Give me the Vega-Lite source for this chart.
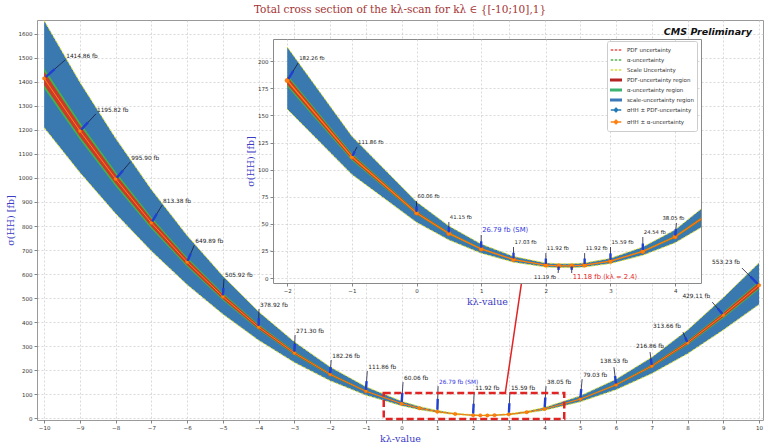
{
  "$schema": "https://vega.github.io/schema/vega-lite/v6.json",
  "background": "white",
  "padding": {"left": 4, "top": 4, "right": 0, "bottom": 0},
  "config": {
    "view": {"stroke": null},
    "axis": {
      "labelFont": "DejaVu Sans", "labelFontSize": 5.5, "labelColor": "#333333",
      "labelPadding": 2,
      "tickSize": 3, "tickColor": "#666666", "tickWidth": 0.8,
      "domain": false,
      "gridColor": "#c8c8c8", "gridDash": [2, 2], "gridWidth": 0.7,
      "titleFont": "DejaVu Serif", "titleFontSize": 9.5, "titleFontWeight": "normal", "titleColor": "#3b3bc4"
    }
  },
  "datasets": {
    "xs": [
      {"k": -10, "s": 1414.86, "shi": 1655.4, "slo": 1209.7, "ahi": 1457.3, "alo": 1372.4, "phi": 1443.2, "plo": 1386.6},
      {"k": -9, "s": 1195.82, "shi": 1399.1, "slo": 1022.4, "ahi": 1231.7, "alo": 1160.0, "phi": 1219.7, "plo": 1171.9},
      {"k": -8, "s": 995.90, "shi": 1165.2, "slo": 851.5, "ahi": 1025.8, "alo": 966.0, "phi": 1015.8, "plo": 976.0},
      {"k": -7, "s": 813.38, "shi": 951.7, "slo": 695.4, "ahi": 837.8, "alo": 789.0, "phi": 829.6, "plo": 797.1},
      {"k": -6, "s": 649.89, "shi": 760.4, "slo": 555.7, "ahi": 669.4, "alo": 630.4, "phi": 662.9, "plo": 636.9},
      {"k": -5, "s": 505.92, "shi": 591.9, "slo": 432.6, "ahi": 521.1, "alo": 490.7, "phi": 516.0, "plo": 495.8},
      {"k": -4, "s": 378.92, "shi": 443.3, "slo": 324.0, "ahi": 390.3, "alo": 367.6, "phi": 386.5, "plo": 371.3},
      {"k": -3, "s": 271.30, "shi": 317.4, "slo": 232.0, "ahi": 279.4, "alo": 263.2, "phi": 276.7, "plo": 265.9},
      {"k": -2, "s": 182.26, "shi": 213.2, "slo": 155.8, "ahi": 187.7, "alo": 176.8, "phi": 185.9, "plo": 178.6},
      {"k": -1, "s": 111.86, "shi": 130.9, "slo": 95.6, "ahi": 115.2, "alo": 108.5, "phi": 114.1, "plo": 109.6},
      {"k": 0, "s": 60.06, "shi": 70.3, "slo": 51.4, "ahi": 61.9, "alo": 58.3, "phi": 61.3, "plo": 58.9},
      {"k": 0.5, "s": 41.15, "shi": 48.1, "slo": 35.2, "ahi": 42.4, "alo": 39.9, "phi": 42.0, "plo": 40.3},
      {"k": 1, "s": 26.79, "shi": 31.3, "slo": 22.9, "ahi": 27.6, "alo": 26.0, "phi": 27.3, "plo": 26.3},
      {"k": 1.5, "s": 17.03, "shi": 19.9, "slo": 14.6, "ahi": 17.5, "alo": 16.5, "phi": 17.4, "plo": 16.7},
      {"k": 2, "s": 11.92, "shi": 13.9, "slo": 10.2, "ahi": 12.3, "alo": 11.6, "phi": 12.2, "plo": 11.7},
      {"k": 2.2, "s": 11.19, "shi": 13.1, "slo": 9.6, "ahi": 11.5, "alo": 10.9, "phi": 11.4, "plo": 11.0},
      {"k": 2.4, "s": 11.18, "shi": 13.1, "slo": 9.6, "ahi": 11.5, "alo": 10.8, "phi": 11.4, "plo": 11.0},
      {"k": 2.6, "s": 11.92, "shi": 13.9, "slo": 10.2, "ahi": 12.3, "alo": 11.6, "phi": 12.2, "plo": 11.7},
      {"k": 3, "s": 15.59, "shi": 18.2, "slo": 13.3, "ahi": 16.1, "alo": 15.1, "phi": 15.9, "plo": 15.3},
      {"k": 3.5, "s": 24.54, "shi": 28.7, "slo": 21.0, "ahi": 25.3, "alo": 23.8, "phi": 25.0, "plo": 24.0},
      {"k": 4, "s": 38.05, "shi": 44.5, "slo": 32.5, "ahi": 39.2, "alo": 36.9, "phi": 38.8, "plo": 37.3},
      {"k": 5, "s": 79.03, "shi": 92.5, "slo": 67.6, "ahi": 81.4, "alo": 76.7, "phi": 80.6, "plo": 77.4},
      {"k": 6, "s": 138.53, "shi": 162.1, "slo": 118.4, "ahi": 142.7, "alo": 134.4, "phi": 141.3, "plo": 135.8},
      {"k": 7, "s": 216.86, "shi": 253.7, "slo": 185.4, "ahi": 223.4, "alo": 210.4, "phi": 221.2, "plo": 212.5},
      {"k": 8, "s": 313.66, "shi": 367.0, "slo": 268.2, "ahi": 323.1, "alo": 304.3, "phi": 319.9, "plo": 307.4},
      {"k": 9, "s": 429.11, "shi": 502.1, "slo": 366.9, "ahi": 442.0, "alo": 416.2, "phi": 437.7, "plo": 420.5},
      {"k": 10, "s": 553.23, "shi": 647.3, "slo": 473.0, "ahi": 569.8, "alo": 536.6, "phi": 564.3, "plo": 542.2}
    ],
    "mainNotes": [
      {"k": -10, "tx": -9.41, "ty": 1492},
      {"k": -9, "tx": -8.55, "ty": 1267},
      {"k": -8, "tx": -7.59, "ty": 1067},
      {"k": -7, "tx": -6.70, "ty": 887},
      {"k": -6, "tx": -5.80, "ty": 720},
      {"k": -5, "tx": -4.97, "ty": 579},
      {"k": -4, "tx": -3.99, "ty": 454},
      {"k": -3, "tx": -2.98, "ty": 346},
      {"k": -2, "tx": -1.97, "ty": 242},
      {"k": -1, "tx": -0.96, "ty": 196},
      {"k": 0, "tx": 0.04, "ty": 150},
      {"k": 1, "tx": 1.02, "ty": 133},
      {"k": 2, "tx": 2.03, "ty": 108},
      {"k": 3, "tx": 3.03, "ty": 108},
      {"k": 4, "tx": 4.04, "ty": 133},
      {"k": 5, "tx": 5.05, "ty": 162},
      {"k": 6, "tx": 5.94, "ty": 212},
      {"k": 7, "tx": 6.95, "ty": 275},
      {"k": 8, "tx": 7.87, "ty": 358},
      {"k": 9, "tx": 8.69, "ty": 483},
      {"k": 10, "tx": 9.52, "ty": 625}
    ],
    "insetNotes": [
      {"k": -2, "tx": -1.83, "ty": 198.5},
      {"k": -1, "tx": -0.92, "ty": 121},
      {"k": 0, "tx": 0.0, "ty": 71},
      {"k": 0.5, "tx": 0.5, "ty": 51.7},
      {"k": 1, "tx": 1.0, "ty": 39.7},
      {"k": 1.5, "tx": 1.5, "ty": 28.6},
      {"k": 2, "tx": 2.0, "ty": 23},
      {"k": 2.2, "tx": 2.19, "ty": 4.6},
      {"k": 2.4, "tx": 2.4, "ty": 4.6},
      {"k": 2.6, "tx": 2.6, "ty": 23},
      {"k": 3, "tx": 3.0, "ty": 28.6},
      {"k": 3.5, "tx": 3.5, "ty": 37.8},
      {"k": 4, "tx": 4.02, "ty": 50.8}
    ]
  },
  "columns": 1,
  "align": "none",
  "spacing": -381,
  "bounds": "flush",
  "concat": [
    {
      "width": 726,
      "height": 400,
      "view": {"stroke": "#9a9a9a", "strokeWidth": 1},
      "title": {
        "text": "Total cross section of the kλ-scan for kλ ∈  {[-10;10],1}",
        "font": "DejaVu Serif", "fontSize": 10.5, "fontWeight": "normal",
        "color": "#a33333", "anchor": "middle", "offset": 3
      },
      "layer": [
        {
          "data": {"name": "xs"},
          "layer": [
            {
              "mark": {"type": "area", "color": "#3a78b0", "opacity": 1},
              "encoding": {
                "x": {"field": "k", "type": "quantitative",
                  "scale": {"domain": [-10.2, 10.11], "nice": false, "zero": false},
                  "axis": {"values": [-10, -9, -8, -7, -6, -5, -4, -3, -2, -1, 0, 1, 2, 3, 4, 5, 6, 7, 8, 9, 10], "tickCount": 50, "format": "d", "title": "kλ-value", "titlePadding": 3, "labelOverlap": false, "labelFlush": false}},
                "y": {"field": "slo", "type": "quantitative",
                  "scale": {"domain": [-8, 1658], "nice": false, "zero": false},
                  "axis": {"values": [0, 100, 200, 300, 400, 500, 600, 700, 800, 900, 1000, 1100, 1200, 1300, 1400, 1500, 1600], "tickCount": 50, "format": "d", "title": "σ(HH) [fb]", "titlePadding": 3, "labelOverlap": false, "labelFlush": false}},
                "y2": {"field": "shi"}
              }
            },
            {
              "mark": {"type": "line", "color": "#e4e43a", "strokeWidth": 1, "strokeDash": [3, 1.5]},
              "encoding": {"x": {"field": "k", "type": "quantitative"}, "y": {"field": "shi", "type": "quantitative"}}
            },
            {
              "mark": {"type": "line", "color": "#e4e43a", "strokeWidth": 1, "strokeDash": [3, 1.5]},
              "encoding": {"x": {"field": "k", "type": "quantitative"}, "y": {"field": "slo", "type": "quantitative"}}
            },
            {
              "mark": {"type": "area", "color": "#3fb54a", "opacity": 1},
              "encoding": {"x": {"field": "k", "type": "quantitative"}, "y": {"field": "alo", "type": "quantitative"}, "y2": {"field": "ahi"}}
            },
            {
              "mark": {"type": "area", "color": "#cc3a2c", "opacity": 1},
              "encoding": {"x": {"field": "k", "type": "quantitative"}, "y": {"field": "plo", "type": "quantitative"}, "y2": {"field": "phi"}}
            },
            {
              "mark": {"type": "line", "color": "#ff7f0e", "strokeWidth": 1},
              "encoding": {"x": {"field": "k", "type": "quantitative"}, "y": {"field": "s", "type": "quantitative"}}
            },
            {
              "mark": {"type": "point", "filled": true, "color": "#ff7f0e", "size": 12, "opacity": 1, "stroke": "#e86a00", "strokeWidth": 0.4},
              "encoding": {"x": {"field": "k", "type": "quantitative"}, "y": {"field": "s", "type": "quantitative"}}
            }
          ]
        },
        {
          "data": {"name": "mainNotes"},
          "transform": [
            {"lookup": "k", "from": {"data": {"name": "xs"}, "key": "k", "fields": ["s"]}},
            {"calculate": "datum.tx + 0.5 * (datum.k - datum.tx)", "as": "hx"},
            {"calculate": "datum.ty + 0.5 * (datum.s - datum.ty)", "as": "hy"},
            {"calculate": "datum.tx + 0.92 * (datum.k - datum.tx)", "as": "ex"},
            {"calculate": "datum.ty + 0.92 * (datum.s - datum.ty)", "as": "ey"},
            {"calculate": "format(datum.s, '.2f') + ' fb' + (datum.k == 1 ? ' (SM)' : '')", "as": "label"}
          ],
          "layer": [
            {
              "mark": {"type": "rule", "color": "#1b1b3a", "strokeWidth": 0.8},
              "encoding": {"x": {"field": "tx", "type": "quantitative"}, "y": {"field": "ty", "type": "quantitative"}, "x2": {"field": "ex"}, "y2": {"field": "ey"}}
            },
            {
              "mark": {"type": "rule", "color": "#2140cf", "strokeWidth": 2.4},
              "encoding": {"x": {"field": "hx", "type": "quantitative"}, "y": {"field": "hy", "type": "quantitative"}, "x2": {"field": "ex"}, "y2": {"field": "ey"}}
            },
            {
              "transform": [{"filter": "datum.k <= 5"}],
              "mark": {"type": "text", "align": "left", "baseline": "bottom", "dx": 1, "dy": -1, "font": "DejaVu Sans", "fontSize": 5.8},
              "encoding": {
                "x": {"field": "tx", "type": "quantitative"}, "y": {"field": "ty", "type": "quantitative"},
                "text": {"field": "label"},
                "color": {"condition": {"test": "datum.k == 1", "value": "#3535e0"}, "value": "#1a1a1a"}
              }
            },
            {
              "transform": [{"filter": "datum.k > 5 && datum.k < 8"}],
              "mark": {"type": "text", "align": "center", "baseline": "bottom", "dy": -3, "font": "DejaVu Sans", "fontSize": 5.8, "color": "#1a1a1a"},
              "encoding": {"x": {"field": "tx", "type": "quantitative"}, "y": {"field": "ty", "type": "quantitative"}, "text": {"field": "label"}}
            },
            {
              "transform": [{"filter": "datum.k >= 8"}],
              "mark": {"type": "text", "align": "right", "baseline": "bottom", "dx": -2, "dy": -3, "font": "DejaVu Sans", "fontSize": 5.8, "color": "#1a1a1a"},
              "encoding": {"x": {"field": "tx", "type": "quantitative"}, "y": {"field": "ty", "type": "quantitative"}, "text": {"field": "label"}}
            }
          ]
        },
        {
          "data": {"values": [{}]},
          "layer": [
            {
              "mark": {"type": "rect", "filled": false, "stroke": "#e02424", "strokeWidth": 2.5, "strokeDash": [7, 3.5]},
              "encoding": {"x": {"datum": -0.5}, "x2": {"datum": 4.55}, "y": {"datum": 104}, "y2": {"datum": -4}}
            },
            {
              "mark": {"type": "rule", "color": "#e02424", "strokeWidth": 1.5},
              "encoding": {"x": {"datum": 2.9}, "y": {"datum": 104}, "x2": {"datum": 3.39}, "y2": {"datum": 600}}
            },
            {
              "mark": {"type": "text", "text": "CMS Preliminary", "align": "right", "baseline": "middle", "font": "DejaVu Sans", "fontSize": 9.5, "fontWeight": "bold", "fontStyle": "italic", "color": "#111111"},
              "encoding": {"x": {"datum": 9.8}, "y": {"datum": 1608}}
            }
          ]
        }
      ]
    },
    {
      "spacing": 0,
      "bounds": "flush",
      "hconcat": [
        {
          "width": 236,
          "height": 244,
          "view": {"stroke": null},
          "data": {"values": [{}]},
          "mark": {"type": "text", "text": ""}
        },
        {
          "width": 428,
          "height": 244,
          "view": {"fill": "white", "stroke": "#8a8a8a", "strokeWidth": 1},
          "layer": [
            {
              "data": {"name": "xs"},
              "transform": [{"filter": "datum.k >= -2 && datum.k <= 5"}],
              "layer": [
                {
                  "mark": {"type": "area", "color": "#3a78b0", "opacity": 1, "clip": true},
                  "encoding": {
                    "x": {"field": "k", "type": "quantitative",
                      "scale": {"domain": [-2.22, 4.4], "nice": false, "zero": false},
                      "axis": {"values": [-2, -1, 0, 1, 2, 3, 4], "tickCount": 50, "format": "d", "title": "kλ-value", "titlePadding": 3, "labelOverlap": false, "labelFlush": false}},
                    "y": {"field": "slo", "type": "quantitative",
                      "scale": {"domain": [-4.6, 220.6], "nice": false, "zero": false},
                      "axis": {"values": [0, 25, 50, 75, 100, 125, 150, 175, 200], "tickCount": 50, "format": "d", "title": "σ(HH) [fb]", "titlePadding": 2, "labelOverlap": false, "labelFlush": false}},
                    "y2": {"field": "shi"}
                  }
                },
                {
                  "mark": {"type": "line", "color": "#e4e43a", "strokeWidth": 1, "strokeDash": [3, 1.5], "clip": true},
                  "encoding": {"x": {"field": "k", "type": "quantitative"}, "y": {"field": "shi", "type": "quantitative"}}
                },
                {
                  "mark": {"type": "line", "color": "#e4e43a", "strokeWidth": 1, "strokeDash": [3, 1.5], "clip": true},
                  "encoding": {"x": {"field": "k", "type": "quantitative"}, "y": {"field": "slo", "type": "quantitative"}}
                },
                {
                  "mark": {"type": "area", "color": "#3fb54a", "opacity": 1, "clip": true},
                  "encoding": {"x": {"field": "k", "type": "quantitative"}, "y": {"field": "alo", "type": "quantitative"}, "y2": {"field": "ahi"}}
                },
                {
                  "mark": {"type": "area", "color": "#cc3a2c", "opacity": 1, "clip": true},
                  "encoding": {"x": {"field": "k", "type": "quantitative"}, "y": {"field": "plo", "type": "quantitative"}, "y2": {"field": "phi"}}
                },
                {
                  "mark": {"type": "line", "color": "#ff7f0e", "strokeWidth": 1.3, "clip": true},
                  "encoding": {"x": {"field": "k", "type": "quantitative"}, "y": {"field": "s", "type": "quantitative"}}
                },
                {
                  "mark": {"type": "point", "filled": true, "color": "#ff7f0e", "size": 20, "opacity": 1, "stroke": "#e86a00", "strokeWidth": 0.4, "clip": true},
                  "encoding": {"x": {"field": "k", "type": "quantitative"}, "y": {"field": "s", "type": "quantitative"}}
                }
              ]
            },
            {
              "data": {"name": "insetNotes"},
              "transform": [
                {"lookup": "k", "from": {"data": {"name": "xs"}, "key": "k", "fields": ["s"]}},
                {"calculate": "datum.tx + 0.45 * (datum.k - datum.tx)", "as": "hx"},
                {"calculate": "datum.ty + 0.45 * (datum.s - datum.ty)", "as": "hy"},
                {"calculate": "datum.tx + 0.9 * (datum.k - datum.tx)", "as": "ex"},
                {"calculate": "datum.ty + 0.9 * (datum.s - datum.ty)", "as": "ey"},
                {"calculate": "format(datum.s, '.2f') + ' fb' + (datum.k == 1 ? ' (SM)' : '') + (datum.k == 2.4 ? ' (kλ = 2.4)' : '')", "as": "label"}
              ],
              "layer": [
                {
                  "mark": {"type": "rule", "color": "#1b1b3a", "strokeWidth": 0.8},
                  "encoding": {"x": {"field": "tx", "type": "quantitative"}, "y": {"field": "ty", "type": "quantitative"}, "x2": {"field": "ex"}, "y2": {"field": "ey"}}
                },
                {
                  "mark": {"type": "rule", "color": "#2140cf", "strokeWidth": 2.4},
                  "encoding": {"x": {"field": "hx", "type": "quantitative"}, "y": {"field": "hy", "type": "quantitative"}, "x2": {"field": "ex"}, "y2": {"field": "ey"}}
                },
                {
                  "transform": [{"filter": "datum.k != 2.2 && datum.k != 2.4 && datum.k != 4"}],
                  "mark": {"type": "text", "align": "left", "baseline": "bottom", "dx": 1, "dy": -2, "font": "DejaVu Sans"},
                  "encoding": {
                    "x": {"field": "tx", "type": "quantitative"}, "y": {"field": "ty", "type": "quantitative"},
                    "text": {"field": "label"},
                    "size": {"condition": {"test": "datum.k == 1", "value": 6.8}, "value": 5.3},
                    "color": {"condition": {"test": "datum.k == 1", "value": "#3535e0"}, "value": "#1a1a1a"}
                  }
                },
                {
                  "transform": [{"filter": "datum.k == 4"}],
                  "mark": {"type": "text", "align": "center", "baseline": "bottom", "dx": -3, "dy": -2, "font": "DejaVu Sans", "fontSize": 5.3, "color": "#1a1a1a"},
                  "encoding": {"x": {"field": "tx", "type": "quantitative"}, "y": {"field": "ty", "type": "quantitative"}, "text": {"field": "label"}}
                },
                {
                  "transform": [{"filter": "datum.k == 2.2"}],
                  "mark": {"type": "text", "align": "right", "baseline": "top", "dx": -2, "dy": 2, "font": "DejaVu Sans", "fontSize": 5.3, "color": "#1a1a1a"},
                  "encoding": {"x": {"field": "tx", "type": "quantitative"}, "y": {"field": "ty", "type": "quantitative"}, "text": {"field": "label"}}
                },
                {
                  "transform": [{"filter": "datum.k == 2.4"}],
                  "mark": {"type": "text", "align": "left", "baseline": "top", "dx": 1, "dy": 1, "font": "DejaVu Sans", "fontSize": 6.8, "color": "#e82828"},
                  "encoding": {"x": {"field": "tx", "type": "quantitative"}, "y": {"field": "ty", "type": "quantitative"}, "text": {"field": "label"}}
                }
              ]
            },
            {
              "data": {"values": [
                {"entry": "PDF uncertainty"},
                {"entry": "α-uncertainty"},
                {"entry": "Scale Uncertainty"},
                {"entry": "PDF-uncertainty region"},
                {"entry": "α-uncertainty region"},
                {"entry": "scale-uncertainty region"},
                {"entry": "σHH ± PDF-uncertainty"},
                {"entry": "σHH ± α-uncertainty"}
              ]},
              "mark": {"type": "point", "filled": false, "opacity": 0, "strokeWidth": 1.5},
              "encoding": {
                "color": {
                  "field": "entry", "type": "nominal",
                  "scale": {
                    "domain": ["PDF uncertainty", "α-uncertainty", "Scale Uncertainty", "PDF-uncertainty region", "α-uncertainty region", "scale-uncertainty region", "σHH ± PDF-uncertainty", "σHH ± α-uncertainty"],
                    "range": ["#f05050", "#55b055", "#d8d840", "#b52222", "#3cb371", "#3b78b8", "#1f77b4", "#ff7f0e"]
                  },
                  "legend": {
                    "orient": "none", "legendX": 570, "legendY": 21, "title": null,
                    "fillColor": "white", "strokeColor": "#cccccc", "padding": 3, "cornerRadius": 2,
                    "labelFont": "DejaVu Sans", "labelFontSize": 5.5, "labelColor": "#333333", "labelOffset": 5,
                    "symbolSize": 110, "symbolStrokeWidth": 1.5, "rowPadding": 0, "symbolOpacity": 1,
                    "encode": {"symbols": {"update": {"opacity": {"value": 1}}}}
                  }
                },
                "shape": {
                  "field": "entry", "type": "nominal",
                  "scale": {
                    "domain": ["PDF uncertainty", "α-uncertainty", "Scale Uncertainty", "PDF-uncertainty region", "α-uncertainty region", "scale-uncertainty region", "σHH ± PDF-uncertainty", "σHH ± α-uncertainty"],
                    "range": ["M-1,0H1", "M-1,0H1", "M-1,0H1", "M-1,-0.15H1V0.15H-1Z", "M-1,-0.15H1V0.15H-1Z", "M-1,-0.15H1V0.15H-1Z", "M-1,0H1M0.25,0A0.25,0.25,0,1,1,-0.25,0A0.25,0.25,0,1,1,0.25,0M0,-0.5V0.5", "M-1,0H1M0.25,0A0.25,0.25,0,1,1,-0.25,0A0.25,0.25,0,1,1,0.25,0M0,-0.5V0.5"]
                  }
                },
                "strokeDash": {
                  "field": "entry", "type": "nominal",
                  "scale": {
                    "domain": ["PDF uncertainty", "α-uncertainty", "Scale Uncertainty", "PDF-uncertainty region", "α-uncertainty region", "scale-uncertainty region", "σHH ± PDF-uncertainty", "σHH ± α-uncertainty"],
                    "range": [[2.5, 1.5], [2.5, 1.5], [2.5, 1.5], [1, 0], [1, 0], [1, 0], [1, 0], [1, 0]]
                  }
                }
              }
            }
          ]
        }
      ]
    }
  ]
}
